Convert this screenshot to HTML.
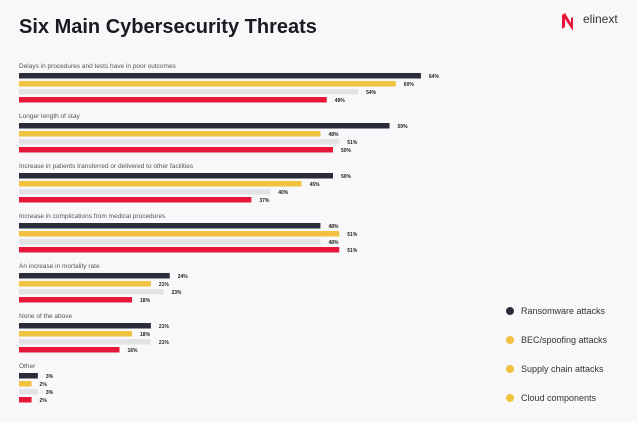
<!DOCTYPE html>
<html><head><meta charset="utf-8"><style>
html,body{margin:0;padding:0;background:#f8f8fa;}
svg{display:block;font-family:"Liberation Sans",sans-serif;}
</style></head><body>
<svg width="637" height="422" viewBox="0 0 637 422">
<rect width="637" height="422" fill="#f8f8fa"/>
<text x="19" y="33" font-size="20" font-weight="bold" fill="#1a1a1f">Six Main Cybersecurity Threats</text>
<g transform="translate(562,11)">
<path d="M0 4 L3 2 L3 16 L0 18 Z" fill="#e8173a"/>
<path d="M3 2 L9 12 L9 7 L11 6 L11 20 L3 8 Z" fill="#e8173a"/>
</g>
<text x="583" y="23" font-size="12" fill="#333">elinext</text>
<g id="bars"></g>
<g font-size="9" fill="#333">
<circle cx="510" cy="311" r="4" fill="#2a2c3a"/><text x="521" y="314">Ransomware attacks</text>
<circle cx="510" cy="340" r="4" fill="#f0c23e"/><text x="521" y="343">BEC/spoofing attacks</text>
<circle cx="510" cy="369" r="4" fill="#f0c23e"/><text x="521" y="372">Supply chain attacks</text>
<circle cx="510" cy="398" r="4" fill="#f0c23e"/><text x="521" y="401">Cloud components</text>
</g>
</svg>
<script>
var g=document.getElementById('bars');
var data=[["Delays in procedures and tests have in poor outcomes",[64,60,54,49]],
["Longer length of stay",[59,48,51,50]],
["Increase in patients transferred or delivered to other facilities",[50,45,40,37]],
["Increase in complications from medical procedures",[48,51,48,51]],
["An increase in mortality rate",[24,21,23,18]],
["None of the above",[21,18,21,16]],
["Other",[3,2,3,2]]];
var cols=["#2a2c3a","#f0c23e","#e3e3e5","#e8173a"];
var s='';
data.forEach(function(d,i){
 var y0=66+i*50;
 s+='<text x="19" y="'+(y0+2)+'" font-size="6.5" fill="#555">'+d[0]+'</text>';
 d[1].forEach(function(v,j){
  var y=y0+7+j*8, w=v*6.28;
  s+='<rect x="19" y="'+y+'" width="'+w+'" height="5.5" fill="'+cols[j]+'"/>';
  s+='<text x="'+(19+w+8)+'" y="'+(y+5)+'" font-size="5" font-weight="bold" fill="#222">'+v+'%</text>';
 });
});
g.innerHTML=s;
</script>
</body></html>
